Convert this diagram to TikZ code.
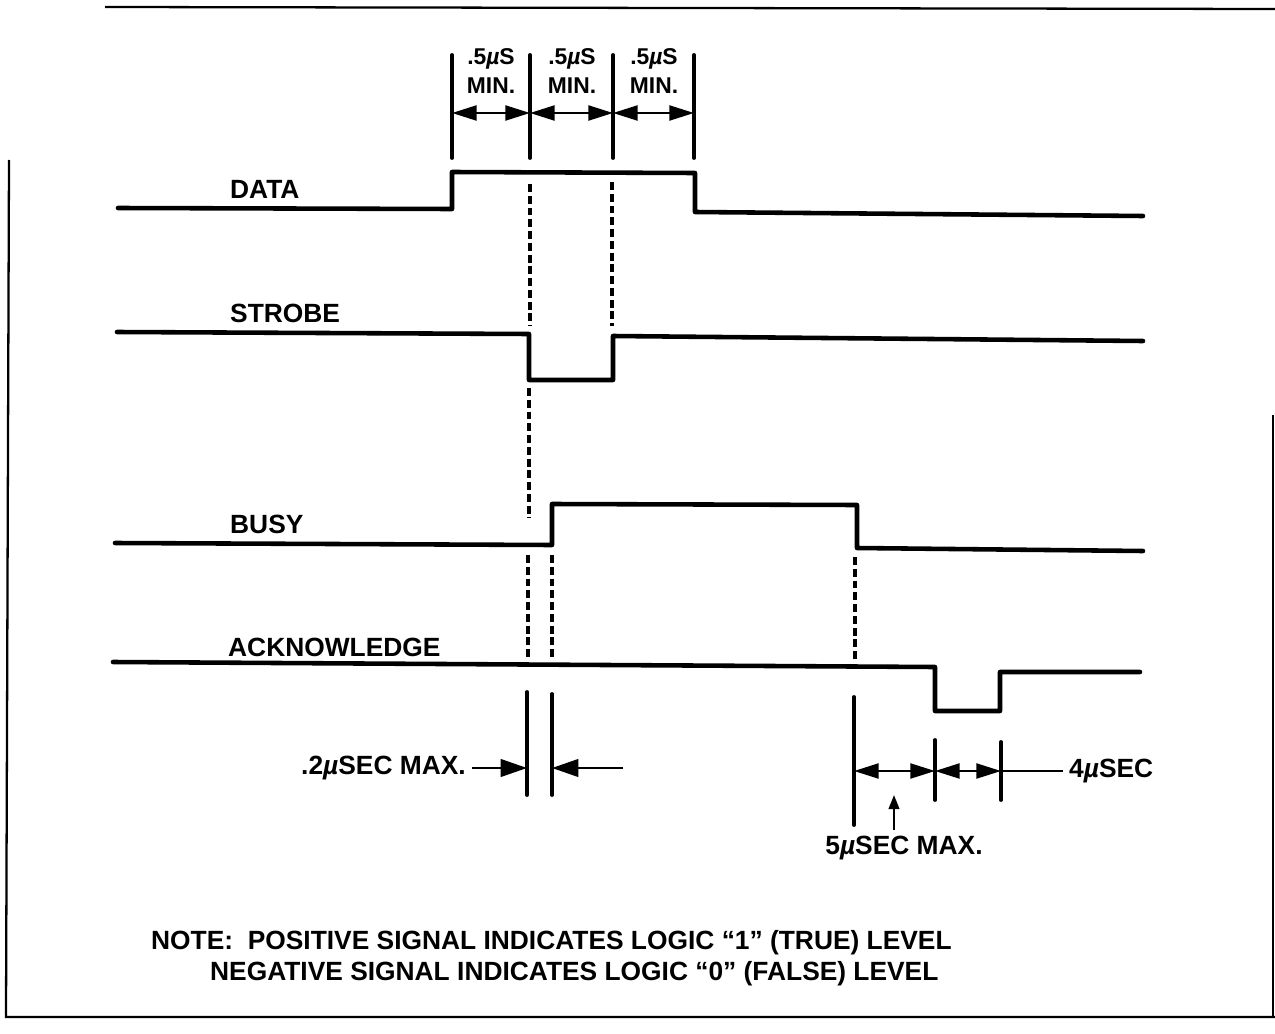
\documentclass[tikz,border=0pt]{standalone}
\usepackage{fontspec}
\setmainfont{Liberation Sans}
\usetikzlibrary{arrows.meta}

\newcommand{\usym}{{\itshape µ}}

\begin{document}
\begin{tikzpicture}[x=0.02cm, y=-0.02cm,
        signal/.style={line width=2.6pt, line join=round, line cap=round},
        guide/.style={line width=2.2pt, dash pattern=on 4.5pt off 2.2pt},
        tick/.style={line width=2.2pt, line cap=round},
        frame/.style={line width=1.3pt},
        dim/.style={line width=1.3pt, {Triangle[length=14pt,width=8.5pt]}-{Triangle[length=14pt,width=8.5pt]}},
        pointer/.style={line width=1.3pt, -{Triangle[length=15pt,width=10pt]}},
        signame/.style={anchor=west, font=\fontsize{15}{18}\selectfont\bfseries},
        lbl/.style={font=\fontsize{15}{18}\selectfont\bfseries},
        small/.style={align=center, font=\fontsize{13}{16}\selectfont\bfseries}
      ]
    \useasboundingbox (0,0) rectangle (1275,1034);

    % frame
    \draw[frame] (105,7) -- (1275,9);
    \draw[frame] (9,160) -- (6,1017) -- (1275,1017);
    \draw[line width=0.6pt] (1273,415) -- (1273,1017);

    % signal names
    \node[signame] (ndata) at (224,189) {DATA};
    \node[signame] (nstrobe) at (224,313) {STROBE};
    \node[signame] (nbusy) at (224,524) {BUSY};
    \node[signame] (nack) at (222,647) {ACKNOWLEDGE};

    % waveforms
    \draw[signal] (118,208) -- (452,209) -- (452,172) -- (695,173) -- (695,212) -- (1143,216);
    \draw[signal] (117,332) -- (529,334) -- (529,380) -- (613,380) -- (613,336) -- (1143,341);
    \draw[signal] (115,543) -- (552,545) -- (552,504) -- (857,505) -- (857,548) -- (1143,551);
    \draw[signal] (113,662) -- (935,667) -- (935,711) -- (1000,711) -- (1000,672) -- (1140,672);

    % guide lines
    \draw[guide] (530,184) -- (530,326);
    \draw[guide] (612,182) -- (612,326);
    \draw[guide] (529,388) -- (529,518);
    \draw[guide] (528,555) -- (528,660);
    \draw[guide] (552,555) -- (552,660);
    \draw[guide] (855,557) -- (855,660);

    % top dimensions
    \foreach \x [count=\i] in {452,530,613,694}
      \coordinate (t\i) at (\x,113);
    \foreach \x in {452,530,613,694}
      \draw[tick] (\x,55) -- (\x,158);
    \draw[dim] (t1) -- (t2);
    \draw[dim] (t2) -- (t3);
    \draw[dim] (t3) -- (t4);
    \node[small] (w1) at (491,71) {.5\usym S\\MIN.};
    \node[small] (w2) at (572,71) {.5\usym S\\MIN.};
    \node[small] (w3) at (654,71) {.5\usym S\\MIN.};

    % busy delay
    \draw[tick] (527,692) -- (527,795);
    \draw[tick] (552,694) -- (552,795);
    \coordinate (b1) at (527,768);
    \coordinate (b2) at (552,768);
    \node[lbl, anchor=east] (dly) at (472,768) {.2\usym SEC MAX.};
    \draw[pointer] (dly.east) -- (b1);
    \coordinate (b3) at (623,768);
    \draw[pointer] (b3) -- (b2);

    % acknowledge timing
    \draw[tick] (854,697) -- (854,825);
    \draw[tick] (935,740) -- (935,800);
    \draw[tick] (1001,742) -- (1001,800);
    \coordinate (a1) at (854,771);
    \coordinate (a2) at (935,771);
    \coordinate (a3) at (1001,771);
    \draw[dim] (a1) -- (a2);
    \draw[dim] (a2) -- (a3);
    \node[lbl, anchor=west] (ackw) at (1063,771) {4\usym SEC};
    \draw[line width=1.3pt] (a3) -- (ackw.west);
    \node[lbl] (ackmax) at (904,848) {5\usym SEC MAX.};
    \coordinate (up) at (894,795);
    \draw[line width=1.3pt, -{Triangle[length=8pt,width=6pt]}] (ackmax.north -| up) -- (up);

    % note
    \node[lbl, anchor=west] (note1) at (145,943) {NOTE:\ \ POSITIVE SIGNAL INDICATES LOGIC “1” (TRUE) LEVEL};
    \node[lbl, anchor=west] (note2) at (204,974) {NEGATIVE SIGNAL INDICATES LOGIC “0” (FALSE) LEVEL};

    \end{tikzpicture}
\end{document}
